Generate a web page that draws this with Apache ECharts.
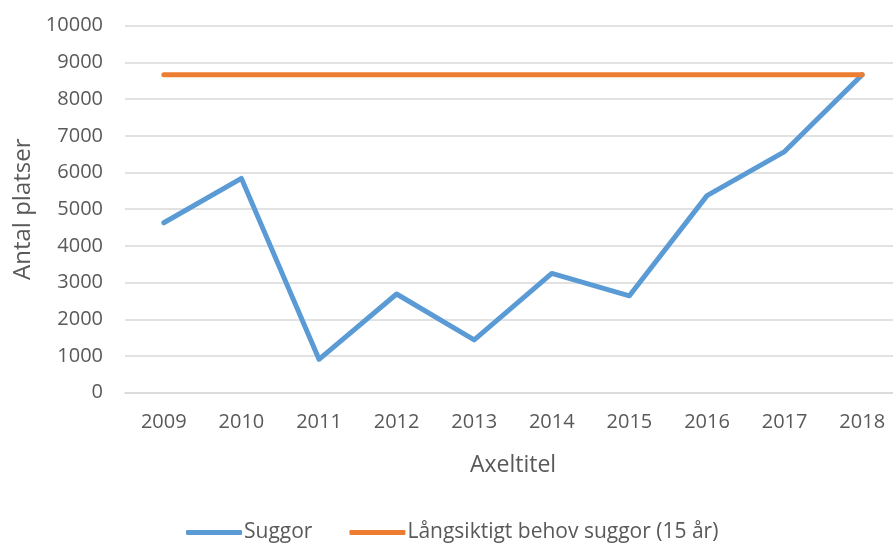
<!DOCTYPE html>
<html><head><meta charset="utf-8">
<script src="https://cdn.jsdelivr.net/npm/echarts@6/dist/echarts.min.js"></script>
<style>html,body{margin:0;padding:0;background:#fff}#c{width:893px;height:546px}</style>
</head><body><div id="c"></div>
<script>
const years = ['2009','2010','2011','2012','2013','2014','2015','2016','2017','2018'];
const suggor = [4630, 5840, 910, 2690, 1440, 3250, 2640, 5370, 6570, 8665];
const behov = [8665, 8665, 8665, 8665, 8665, 8665, 8665, 8665, 8665, 8665];
const yTicks = [0, 10000, 1000];
const FONT = 'Open Sans';
const chart = echarts.init(document.getElementById('c'));
chart.setOption({
  animation: false,
  textStyle: {fontFamily: FONT},
  grid: {left: 125, top: 25.7, width: 776, height: 367, containLabel: false, outerBoundsMode: 'none'},
  legend: {
    left: 181, top: 517, itemWidth: 56, itemHeight: 5, itemGap: 37, icon: 'roundRect',
    textStyle: {fontFamily: FONT, fontSize: 21, color: '#595959', padding: [0,0,0,-3]},
    data: ['Suggor', 'Långsiktigt behov suggor (15 år)']
  },
  xAxis: {
    type: 'category', data: years, boundaryGap: true,
    name: 'Axeltitel', nameLocation: 'middle', nameGap: 61,
    nameTextStyle: {fontSize: 23, color: '#595959', fontFamily: FONT},
    axisLine: {lineStyle: {color: '#d9d9d9', width: 1.5}},
    axisTick: {show: false},
    axisLabel: {fontSize: 20, color: '#595959', margin: 20}
  },
  yAxis: {
    type: 'value', min: yTicks[0], max: yTicks[1], interval: yTicks[2],
    name: 'Antal platser', nameLocation: 'middle', nameGap: 90, nameRotate: 90,
    nameTextStyle: {fontSize: 24, color: '#595959', fontFamily: FONT},
    axisLine: {show: false}, axisTick: {show: false},
    splitLine: {lineStyle: {color: '#d9d9d9', width: 1.5}},
    axisLabel: {fontSize: 20, color: '#595959', margin: 22, formatter: v => String(v)}
  },
  series: [
    {name: 'Suggor', type: 'line', data: suggor, symbol: 'none',
     lineStyle: {color: '#5b9bd5', width: 5, cap: 'round', join: 'round'}, itemStyle: {color: '#5b9bd5'}},
    {name: 'Långsiktigt behov suggor (15 år)', type: 'line', data: behov, symbol: 'none',
     lineStyle: {color: '#ed7d31', width: 5, cap: 'round'}, itemStyle: {color: '#ed7d31'}}
  ]
});
</script></body></html>
